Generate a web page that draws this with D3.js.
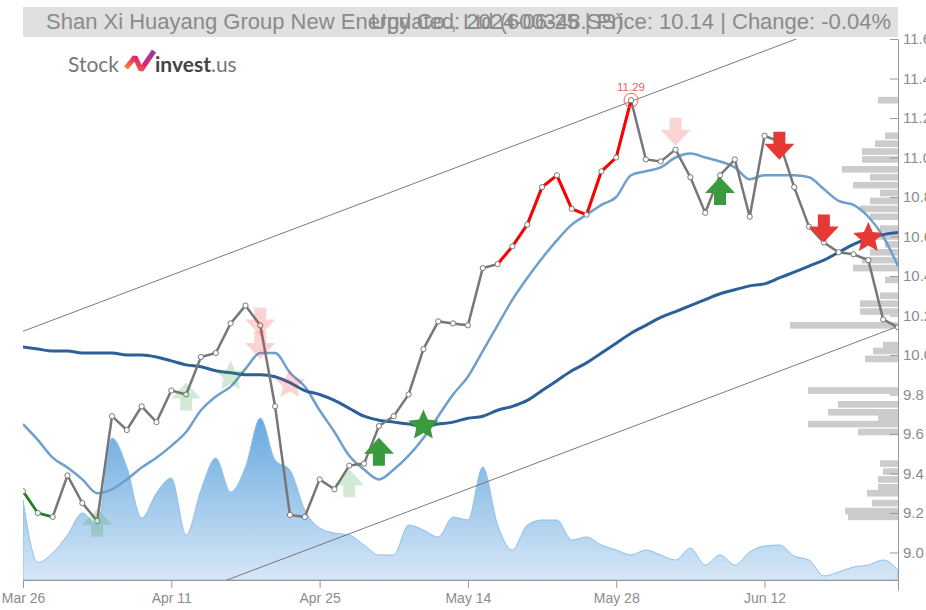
<!DOCTYPE html>
<html>
<head>
<meta charset="utf-8">
<script src="https://cdn.jsdelivr.net/npm/d3@7"></script>
<style>
  body { margin: 0; background: #fff; }
  svg { display: block; font-family: "Liberation Sans", Arial, sans-serif; }
  .axis text { fill: #8c8c8c; }
  .axis path, .axis line { stroke: #999; }
</style>
</head>
<body>
<svg width="926" height="610"></svg>
<script>
// trading days shown on the chart
var dates = ["2024-03-26","2024-03-27","2024-03-28","2024-03-29",
  "2024-04-01","2024-04-02","2024-04-03","2024-04-08","2024-04-09","2024-04-10","2024-04-11","2024-04-12",
  "2024-04-15","2024-04-16","2024-04-17","2024-04-18","2024-04-19","2024-04-22","2024-04-23","2024-04-24",
  "2024-04-25","2024-04-26","2024-04-29","2024-04-30","2024-05-06","2024-05-07","2024-05-08","2024-05-09",
  "2024-05-10","2024-05-13","2024-05-14","2024-05-15","2024-05-16","2024-05-17","2024-05-20","2024-05-21",
  "2024-05-22","2024-05-23","2024-05-24","2024-05-27","2024-05-28","2024-05-29","2024-05-30","2024-05-31",
  "2024-06-03","2024-06-04","2024-06-05","2024-06-06","2024-06-07","2024-06-11","2024-06-12","2024-06-13",
  "2024-06-14","2024-06-17","2024-06-18","2024-06-19","2024-06-20","2024-06-21","2024-06-24","2024-06-25"];

// closing prices
var closes = [9.31, 9.20, 9.18, 9.39, 9.25, 9.16, 9.69, 9.62, 9.74, 9.66,
  9.82, 9.80, 9.99, 10.01, 10.16, 10.25, 10.15, 9.74, 9.19, 9.18,
  9.37, 9.32, 9.44, 9.45, 9.64, 9.69, 9.80, 10.03, 10.17, 10.16,
  10.15, 10.44, 10.46, 10.55, 10.66, 10.85, 10.91, 10.74, 10.71, 10.93,
  11.00, 11.29, 10.99, 10.98, 11.04, 10.90, 10.72, 10.91, 10.99, 10.70,
  11.11, 11.08, 10.85, 10.65, 10.57, 10.52, 10.51, 10.48, 10.18, 10.14];

// short moving average (light blue)
var maShort = [9.65, 9.57, 9.48, 9.43, 9.37, 9.30, 9.32, 9.37, 9.43, 9.48,
  9.54, 9.61, 9.72, 9.79, 9.84, 9.93, 10.01, 10.01, 9.91, 9.84,
  9.72, 9.61, 9.49, 9.42, 9.37, 9.42, 9.49, 9.58, 9.69, 9.80,
  9.89, 10.02, 10.15, 10.28, 10.39, 10.49, 10.58, 10.66, 10.71, 10.76,
  10.80, 10.91, 10.93, 10.95, 11.00, 11.02, 11.00, 10.98, 10.95, 10.89,
  10.91, 10.91, 10.91, 10.90, 10.84, 10.78, 10.76, 10.70, 10.60, 10.45];

// long moving average (dark blue)
var maLong = [10.04, 10.03, 10.02, 10.02, 10.01, 10.01, 10.01, 10.00, 10.00, 9.99,
  9.97, 9.95, 9.94, 9.92, 9.91, 9.90, 9.90, 9.89, 9.86, 9.82,
  9.80, 9.77, 9.73, 9.69, 9.67, 9.66, 9.65, 9.64, 9.65, 9.66,
  9.68, 9.69, 9.72, 9.74, 9.77, 9.82, 9.87, 9.92, 9.96, 10.01,
  10.06, 10.11, 10.15, 10.19, 10.22, 10.25, 10.28, 10.31, 10.33, 10.35,
  10.36, 10.39, 10.42, 10.45, 10.48, 10.52, 10.56, 10.59, 10.61, 10.62];

// daily volume (millions of shares)
var volumes = [16, 3.5, 5.4, 9, 13.4, 11, 28.4, 22.6, 12.4, 17.4,
  20.4, 9, 18, 24.4, 17.6, 22.6, 32.4, 24, 22, 14,
  10.4, 9.4, 9, 7, 5, 5, 11, 10, 8.6, 12.6,
  12, 22.6, 11, 6, 11, 12, 12, 8, 8.6, 7,
  6, 5, 6, 5, 4, 6.4, 3, 5, 3, 5.6,
  6.8, 7, 4.8, 4, 0.8, 1.6, 2.6, 3, 4, 2];

// volume by price profile on the right
var profilePrice = [11.29, 11.11, 11.07, 11.03, 10.99, 10.94, 10.90, 10.86, 10.82, 10.78,
  10.74, 10.70, 10.64, 10.60, 10.56, 10.52, 10.48, 10.44, 10.38, 10.30,
  10.26, 10.22, 10.15, 10.05, 10.02, 9.98, 9.82, 9.75, 9.71, 9.68,
  9.65, 9.61, 9.45, 9.41, 9.37, 9.33, 9.30, 9.25, 9.21, 9.18];
var profileVolume = [20, 13, 23, 36, 36, 56, 28, 45, 18, 28,
  38, 28, 18, 23, 13, 28, 36, 45, 13, 18,
  38, 38, 108, 15, 25, 33, 90, 60, 70, 20,
  90, 40, 18, 15, 20, 20, 31, 26, 53, 50];

// trend channel end values (first and last day)
var channelUpper = [10.12, 11.795];
var channelLower = [8.47, 10.145];

// buy / sell signals: index, price level, kind, shape, faded or not
var signalIndex = [5, 11, 14, 16, 16, 18, 22, 24, 27, 44, 47, 51, 54, 57];
var signalPrice = [9.15, 9.79, 9.90, 10.17, 10.05, 9.86, 9.35, 9.51, 9.65, 11.13, 10.83, 11.06, 10.64, 10.60];
var signalKind  = ["buy","buy","buy","sell","sell","sell","buy","buy","buy","sell","buy","sell","sell","sell"];
var signalShape = ["arrow","arrow","star","arrow","arrow","star","arrow","arrow","star","arrow","arrow","arrow","arrow","star"];
var signalFaded = [true, true, true, true, true, true, true, false, false, true, false, false, false, false];

var tickIndex = [0, 10, 20, 30, 40, 50];
var yTicks = [9.0, 9.2, 9.4, 9.6, 9.8, 10.0, 10.2, 10.4, 10.6, 10.8, 11.0, 11.2, 11.4, 11.6];

var titleText = "Shan Xi Huayang Group New Energy Co., Ltd (600348.SS)";
var infoText = "Updated: 2024-06-25 | Price: 10.14 | Change: -0.04%";

var svg = d3.select("svg");
// plot edges (note: "top" is reserved on window, so use own names)
var plotLeft = 23, plotRight = 898, plotTop = 39, plotBottom = 580;

var parseDate = d3.timeParse("%Y-%m-%d");
var fmtDate = d3.timeFormat("%b %d");

var x = d3.scaleLinear().domain([0, dates.length - 1]).range([plotLeft, plotRight]);
var y = d3.scaleLinear().domain([8.81, 11.6]).range([590, plotTop]);
var vy = d3.scaleLinear().domain([0, 40]).range([plotBottom, plotBottom - 200]);
var pw = d3.scaleLinear().domain([0, 110]).range([0, 110]);

var defs = svg.append("defs");
defs.append("clipPath").attr("id", "plotClip")
  .append("rect").attr("x", plotLeft).attr("y", plotTop)
  .attr("width", plotRight - plotLeft).attr("height", plotBottom - plotTop);
var grad = defs.append("linearGradient").attr("id", "volGrad")
  .attr("gradientUnits", "userSpaceOnUse")
  .attr("x1", 0).attr("y1", plotBottom - 170).attr("x2", 0).attr("y2", plotBottom);
grad.append("stop").attr("offset", 0).attr("stop-color", "#62a6df");
grad.append("stop").attr("offset", 1).attr("stop-color", "#d6e7f6");
var logoGrad = defs.append("linearGradient").attr("id", "logoGrad")
  .attr("x1", 0).attr("y1", 1).attr("x2", 1).attr("y2", 0);
logoGrad.append("stop").attr("offset", 0).attr("stop-color", "#f7941d");
logoGrad.append("stop").attr("offset", 0.5).attr("stop-color", "#e5216f");
logoGrad.append("stop").attr("offset", 1).attr("stop-color", "#8e3fa8");

var plot = svg.append("g").attr("clip-path", "url(#plotClip)");

// volume area
var volArea = d3.area()
  .x(function(d, i) { return x(i); })
  .y0(plotBottom)
  .y1(function(d) { return vy(d); })
  .curve(d3.curveMonotoneX);
plot.append("path").datum(volumes)
  .attr("d", volArea)
  .attr("fill", "url(#volGrad)")
  .attr("stroke", "#8fc0ea")
  .attr("stroke-width", 1);

// volume profile bars
plot.selectAll("rect.profile")
  .data(profilePrice)
  .enter().append("rect")
  .attr("class", "profile")
  .attr("x", function(d, i) { return plotRight - pw(profileVolume[i]); })
  .attr("y", function(d) { return y(d) - 3.3; })
  .attr("width", function(d, i) { return pw(profileVolume[i]); })
  .attr("height", 6.6)
  .attr("fill", "#cccccc");

// trend channel
[channelUpper, channelLower].forEach(function(c) {
  plot.append("line")
    .attr("x1", x(0)).attr("y1", y(c[0]))
    .attr("x2", x(dates.length - 1)).attr("y2", y(c[1]))
    .attr("stroke", "#666").attr("stroke-width", 1).attr("opacity", 0.85);
});

// moving averages
var smooth = d3.line()
  .x(function(d, i) { return x(i); })
  .y(function(d) { return y(d); })
  .curve(d3.curveMonotoneX);
plot.append("path").datum(maShort).attr("d", smooth)
  .attr("fill", "none").attr("stroke", "#6d9fcf").attr("stroke-width", 2.5);
plot.append("path").datum(maLong).attr("d", smooth)
  .attr("fill", "none").attr("stroke", "#2d5f99").attr("stroke-width", 3);

// price line, with coloured stretches
var priceLine = d3.line()
  .x(function(d) { return x(d); })
  .y(function(d) { return y(closes[d]); });
var allIdx = d3.range(closes.length);
plot.append("path").datum(allIdx).attr("d", priceLine)
  .attr("fill", "none").attr("stroke", "#777").attr("stroke-width", 2.5);
plot.append("path").datum(d3.range(0, 3)).attr("d", priceLine)
  .attr("fill", "none").attr("stroke", "#138a13").attr("stroke-width", 2.5);
plot.append("path").datum(d3.range(32, 42)).attr("d", priceLine)
  .attr("fill", "none").attr("stroke", "#ff0000").attr("stroke-width", 3);

plot.selectAll("circle.pt")
  .data(allIdx)
  .enter().append("circle")
  .attr("class", "pt")
  .attr("cx", function(d) { return x(d); })
  .attr("cy", function(d) { return y(closes[d]); })
  .attr("r", 2.6)
  .attr("fill", "#fff")
  .attr("stroke", "#777")
  .attr("stroke-width", 1);

// peak label
var peak = d3.maxIndex(closes);
svg.append("circle")
  .attr("cx", x(peak)).attr("cy", y(closes[peak])).attr("r", 7)
  .attr("fill", "none").attr("stroke", "#f06060").attr("stroke-width", 1);
svg.append("text")
  .attr("x", x(peak)).attr("y", y(closes[peak]) - 9)
  .attr("text-anchor", "middle")
  .attr("font-size", 11.5)
  .attr("fill", "#f06060")
  .text(closes[peak].toFixed(2));

// signals: block arrows and a five point star
var upArrow = "M0,-14L15,2L6,2L6,14L-6,14L-6,2L-15,2Z";
var downArrow = "M0,14L15,-2L6,-2L6,-14L-6,-14L-6,-2L-15,-2Z";
var starPts = d3.range(10).map(function(k) {
  var r = k % 2 == 0 ? 16 : 7.5;
  var a = -Math.PI / 2 + k * Math.PI / 5;
  return [r * Math.cos(a), r * Math.sin(a) + 1.5];
});
var star = "M" + starPts.join("L") + "Z";
svg.selectAll("path.signal")
  .data(signalIndex)
  .enter().append("path")
  .attr("class", "signal")
  .attr("transform", function(d, i) { return "translate(" + x(d) + "," + y(signalPrice[i]) + ")"; })
  .attr("d", function(d, i) {
    if (signalShape[i] == "star") return star;
    return signalKind[i] == "buy" ? upArrow : downArrow;
  })
  .attr("fill", function(d, i) { return signalKind[i] == "buy" ? "#3b9a3e" : "#e53935"; })
  .attr("opacity", function(d, i) { return signalFaded[i] ? 0.22 : 1; });

// axes
var xAxis = d3.axisBottom(x)
  .tickValues(tickIndex)
  .tickFormat(function(i) { return fmtDate(parseDate(dates[i])); })
  .tickSizeInner(8).tickSizeOuter(0).tickPadding(5);
var xGroup = svg.append("g").attr("class", "axis")
  .attr("transform", "translate(0," + plotBottom + ")")
  .call(xAxis);
xGroup.selectAll("text").attr("font-size", 14);

var yAxis = d3.axisRight(y)
  .tickValues(yTicks)
  .tickFormat(d3.format(".1f"))
  .tickSizeInner(-8).tickSizeOuter(0).tickPadding(5);
var yGroup = svg.append("g").attr("class", "axis")
  .attr("transform", "translate(" + plotRight + ",0)")
  .call(yAxis);
yGroup.selectAll("text").attr("font-size", 15);

// title bar
svg.append("rect")
  .attr("x", plotLeft).attr("y", 7).attr("width", plotRight - plotLeft).attr("height", 30)
  .attr("fill", "#e0e0e0");
svg.append("text")
  .attr("x", 46).attr("y", 29)
  .attr("font-size", 22).attr("fill", "#8a8a8a")
  .text(titleText);
svg.append("text")
  .attr("x", 891).attr("y", 29)
  .attr("text-anchor", "end")
  .attr("font-size", 22).attr("fill", "#8a8a8a")
  .text(infoText);

// logo
var logo = svg.append("g");
logo.append("text")
  .attr("x", 68).attr("y", 72)
  .attr("font-family", "Lato").attr("font-size", 21).attr("fill", "#777")
  .text("Stock");
logo.append("path")
  .attr("d", "M126,68L135,57L141,70L154,51")
  .attr("fill", "none").attr("stroke", "url(#logoGrad)")
  .attr("stroke-width", 5).attr("stroke-linejoin", "bevel");
var brand = logo.append("text")
  .attr("x", 155).attr("y", 72)
  .attr("font-family", "Lato").attr("font-size", 21);
brand.append("tspan").attr("font-weight", "bold").attr("fill", "#444").text("invest");
brand.append("tspan").attr("fill", "#777").text(".us");
</script>
</body>
</html>
